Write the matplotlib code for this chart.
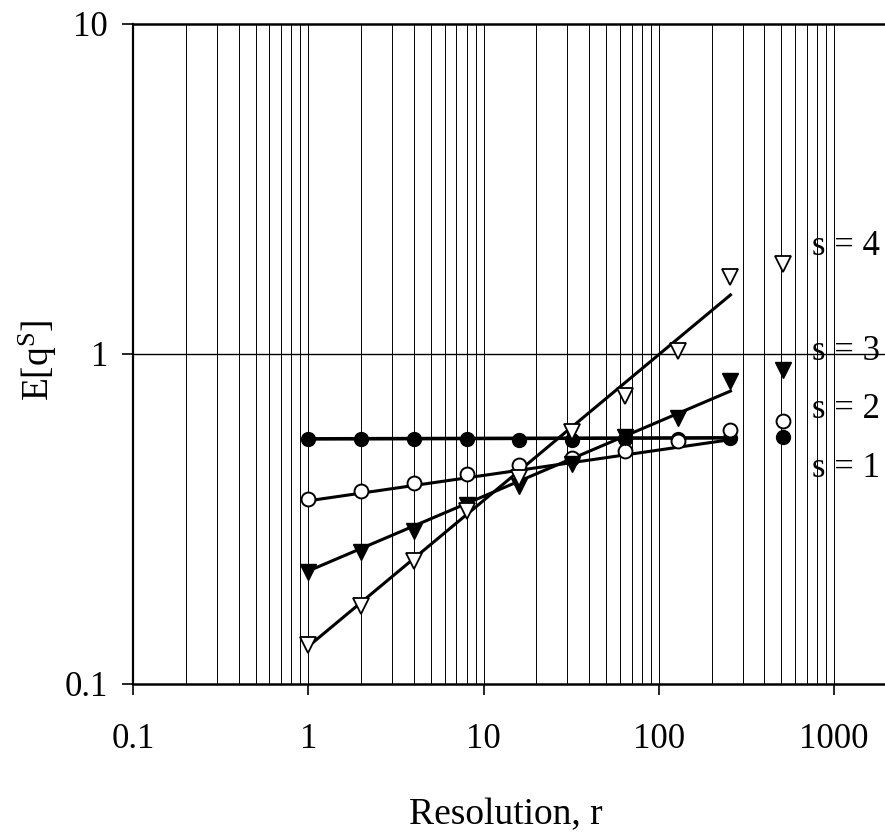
import matplotlib
matplotlib.use("Agg")
import matplotlib.pyplot as plt
from matplotlib.ticker import FixedLocator, FixedFormatter

plt.rcParams["font.family"] = ["Liberation Serif", "DejaVu Serif"]
plt.rcParams["mathtext.fontset"] = "custom"
plt.rcParams["mathtext.rm"] = "Liberation Serif"
plt.rcParams["mathtext.it"] = "Liberation Serif:italic"

# Resolution levels and moments E[q^s] for s = 1..4
resolution = [1, 2, 4, 8, 16, 32, 64, 128, 256, 512]
moment_s1 = [0.553, 0.552, 0.551, 0.551, 0.548, 0.548, 0.552, 0.553, 0.556, 0.562]
moment_s2 = [0.364, 0.384, 0.406, 0.433, 0.461, 0.484, 0.508, 0.543, 0.588, 0.627]
moment_s3 = [0.218, 0.251, 0.291, 0.348, 0.398, 0.464, 0.560, 0.640, 0.826, 0.895]
moment_s4 = [0.131, 0.172, 0.236, 0.334, 0.421, 0.580, 0.746, 1.020, 1.710, 1.870]

# Power-law fits over r = 1..256
fit_r = [1, 256]
fit_s1 = [0.553, 0.557]
fit_s2 = [0.359, 0.550]
fit_s3 = [0.220, 0.772]
fit_s4 = [0.130, 1.510]

labels = ["s = 1", "s = 2", "s = 3", "s = 4"]
xticks = [0.1, 1, 10, 100, 1000]
xticklabels = ["0.1", "1", "10", "100", "1000"]
yticks = [0.1, 1, 10]
yticklabels = ["0.1", "1", "10"]

fig = plt.figure(figsize=(8.85, 8.38), dpi=100)
ax = fig.add_axes([0.1503, 0.1838, 0.9904, 0.7876])
ax.set_xscale("log")
ax.set_yscale("log")
ax.set_xlim(0.1, 10000)
ax.set_ylim(0.1, 10)

# vertical grid on every 1-9 subdivision up to 1000
xgrid = [m * 10.0 ** e for e in range(-1, 3) for m in range(1, 10)] + [1000, 2000]
for xv in xgrid[1:]:
    ax.axvline(xv, color="black", lw=0.7, zorder=1)
ax.axhline(1, color="black", lw=1.0, zorder=1)

ax.xaxis.set_major_locator(FixedLocator(xticks))
ax.xaxis.set_major_formatter(FixedFormatter(xticklabels))
ax.xaxis.set_minor_locator(FixedLocator([]))
ax.yaxis.set_major_locator(FixedLocator(yticks))
ax.yaxis.set_major_formatter(FixedFormatter(yticklabels))
ax.yaxis.set_minor_locator(FixedLocator([]))

ax.tick_params(axis="both", which="major", direction="out", length=8, width=1.2,
               labelsize=25)
ax.tick_params(axis="x", pad=20)
ax.tick_params(axis="y", pad=10)

ax.spines["right"].set_visible(False)
ax.spines["left"].set_linewidth(1.6)
ax.spines["bottom"].set_linewidth(1.8)
ax.spines["top"].set_linewidth(1.8)

lw = 2.2
ax.plot(fit_r, fit_s1, color="black", lw=2.6, zorder=3)
ax.plot(fit_r, fit_s2, color="black", lw=lw, zorder=3)
ax.plot(fit_r, fit_s3, color="black", lw=lw, zorder=3)
ax.plot(fit_r, fit_s4, color="black", lw=lw, zorder=3)

ms = 10
ax.plot(resolution, moment_s1, ls="none", marker="o", ms=ms, mfc="black", mec="black", zorder=4)
ax.plot(resolution, moment_s2, ls="none", marker="o", ms=ms, mfc="white", mec="black", mew=1.4, zorder=4)
ax.plot(resolution, moment_s3, ls="none", marker="v", ms=ms + 1, mfc="black", mec="black", zorder=4)
ax.plot(resolution, moment_s4, ls="none", marker="v", ms=ms + 1, mfc="white", mec="black", mew=1.3, zorder=4)

for lab, yv in zip(labels, [0.449, 0.68, 1.02, 2.11]):
    ax.text(745, yv, lab, fontsize=25, ha="left", va="center", zorder=5)

ax.set_xlabel("Resolution, r", fontsize=27)
ax.xaxis.set_label_coords(0.4256, -0.172)
ax.set_ylabel(r"E[q$^{\mathrm{S}}$]", fontsize=27)
ax.yaxis.set_label_coords(-0.085, 0.491)

fig.savefig("out.png", dpi=100)
